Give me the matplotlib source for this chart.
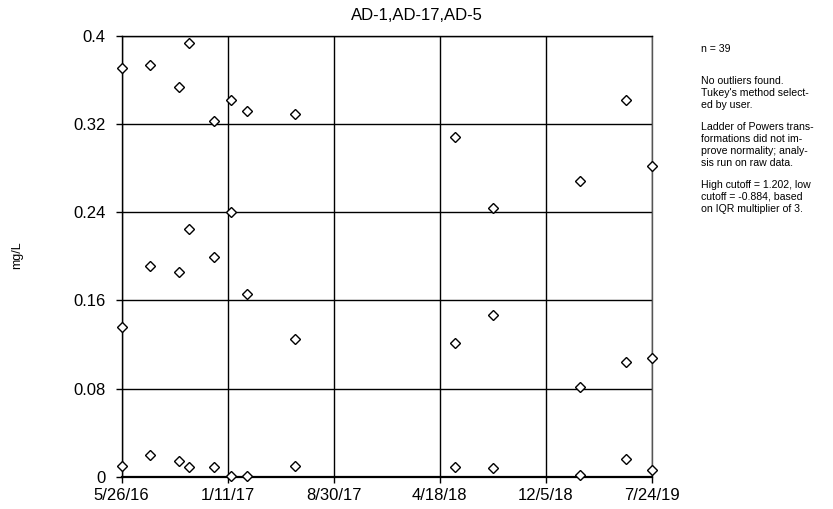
import matplotlib
matplotlib.use("Agg")
import matplotlib.pyplot as plt
import matplotlib.dates as mdates
import numpy as np
from datetime import datetime

plt.rcParams['font.family'] = ['Liberation Sans', 'DejaVu Sans']

# sampling dates, three wells per date
dates = ['2016-05-26', '2016-07-27', '2016-09-28', '2016-10-19', '2016-12-12',
         '2017-01-18', '2017-02-22', '2017-06-07', '2018-05-22', '2018-08-13',
         '2019-02-18', '2019-05-29', '2019-07-24']
high = [0.371, 0.374, 0.354, 0.394, 0.323, 0.342, 0.332, 0.329, 0.308, 0.244,
        0.268, 0.342, 0.282]
mid = [0.136, 0.191, 0.186, 0.225, 0.199, 0.240, 0.166, 0.125, 0.121, 0.147,
       0.081, 0.104, 0.108]
low = [0.0097, 0.020, 0.0145, 0.0085, 0.0088, 0.0006, 0.0009, 0.010, 0.0088,
       0.0076, 0.0018, 0.0158, 0.0061]

x_tick_labels = ['5/26/16', '1/11/17', '8/30/17', '4/18/18', '12/5/18', '7/24/19']
y_ticks = [0, 0.08, 0.16, 0.24, 0.32, 0.4]
y_tick_labels = ['0', '0.08', '0.16', '0.24', '0.32', '0.4']

notes = [
    ["n = 39"],
    ["No outliers found.", "Tukey's method select-", "ed by user."],
    ["Ladder of Powers trans-", "formations did not im-", "prove normality; analy-",
     "sis run on raw data."],
    ["High cutoff = 1.202, low", "cutoff = -0.884, based", "on IQR multiplier of 3."],
]
note_tops = [49, 80.7, 126.7, 185]  # pixel rows of first line of each paragraph

xd = mdates.date2num([datetime.strptime(d, '%Y-%m-%d') for d in dates])

W, H = 833, 509
fig = plt.figure(figsize=(W / 100, H / 100), dpi=100)
ax = fig.add_axes([0.1461, 0.0635, 0.6363, 0.8658])

for series in (high, mid, low):
    ax.plot(xd, series, linestyle='none', marker='D', markersize=5.5,
            markerfacecolor='white', markeredgecolor='black', markeredgewidth=1,
            clip_on=False, zorder=3)

xmin, xmax = xd[0], xd[-1]
ax.set_xlim(xmin, xmax)
ax.set_ylim(0, 0.4)
ax.set_xticks(np.linspace(xmin, xmax, len(x_tick_labels)))
ax.set_xticklabels(x_tick_labels, fontsize=12)
ax.set_yticks(y_ticks)
ax.set_yticklabels(y_tick_labels, fontsize=12)
ax.tick_params(direction='out', length=4, width=1, color='black')
ax.tick_params(axis='x', pad=4.5)
ax.tick_params(axis='y', pad=7.5)
ax.grid(True, color='black', linewidth=1)
ax.set_axisbelow(True)
for s in ax.spines.values():
    s.set_color('black')
    s.set_linewidth(1)
ax.spines['bottom'].set_linewidth(1.6)
ax.spines['right'].set_color('#555555')

fig.text(0.5, 1 - 15.5 / H, 'AD-1,AD-17,AD-5', fontsize=12, ha='center', va='center')
fig.text(17 / W, 1 - 255 / H, 'mg/L', rotation=90, fontsize=9, ha='center', va='center')

for lines, top in zip(notes, note_tops):
    for i, line in enumerate(lines):
        fig.text(701 / W, 1 - (top + 12 * i) / H, line, fontsize=7.6,
                 ha='left', va='center')

fig.savefig('out.png', dpi=100)
